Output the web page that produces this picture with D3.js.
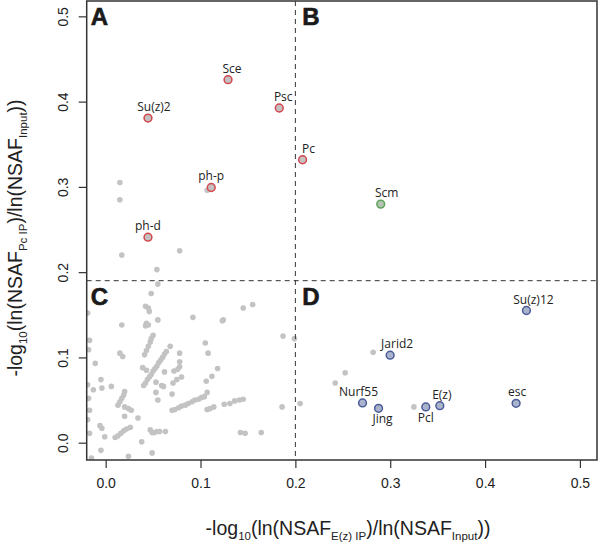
<!DOCTYPE html>
<html><head><meta charset="utf-8">
<script src="https://cdn.jsdelivr.net/npm/d3@7"></script>
<style>body{margin:0;background:#fff}</style>
</head><body><svg id="c" width="600" height="547"></svg>
<script>
// ---- data ----
const xTicks = [0.0, 0.1, 0.2, 0.3, 0.4, 0.5];
const yTicks = [0.0, 0.1, 0.2, 0.3, 0.4, 0.5];
const xThreshold = 0.2;
const yThreshold = 0.19;
const panelLetters = ["A", "B", "C", "D"];

const greyX = [0.015,0.015,0.017,0.078,0.054,0.107,
 0.055,0.048,0.042,0.045,0.046,0.043,0.042,0.045,0.055,0.017,0.092,0.145,0.155,0.124,0.123,0.187,0.199,
 -0.019,-0.017,-0.018,
 0.041,0.043,0.045,0.047,0.048,0.050,
 0.015,0.018,0.068,0.078,0.078,0.105,0.108,0.118,0.112,0.106,0.107,
 0.040,0.042,0.044,0.046,0.048,0.050,0.052,0.054,0.056,0.058,0.060,0.062,0.064,
 0.039,0.043,0.062,0.053,0.061,0.059,0.072,0.076,0.078,0.071,0.075,0.080,0.070,
 -0.011,-0.005,-0.004,-0.013,0.006,-0.018,
 0.013,0.015,0.017,0.019,0.020,
 0.020,0.024,0.027,0.020,0.034,0.053,0.055,-0.017,-0.006,-0.004,-0.017,-0.001,
 0.010,0.013,0.016,0.019,0.022,0.026,
 0.038,0.047,0.049,0.051,0.054,0.057,0.063,
 0.070,0.073,0.077,0.080,0.084,0.087,0.091,0.094,0.098,0.101,0.104,
 0.107,0.110,0.114,0.125,0.131,0.136,0.141,0.145,0.142,0.147,0.164,0.186,
 -0.005,0.024,0.049,-0.019,-0.019,-0.015,
 0.205,0.282,0.2525,0.242,0.325];
const greyY = [0.305,0.285,0.220,0.225,0.203,0.296,
 0.186,0.175,0.160,0.158,0.154,0.140,0.137,0.138,0.144,0.138,0.147,0.158,0.162,0.144,0.143,0.125,0.122,
 0.152,0.120,0.109,
 0.103,0.108,0.113,0.118,0.122,0.126,
 0.105,0.101,0.113,0.105,0.095,0.117,0.105,0.087,0.078,0.072,0.059,
 0.067,0.070,0.074,0.077,0.080,0.084,0.087,0.090,0.094,0.097,0.100,0.104,0.107,
 0.088,0.085,0.083,0.071,0.066,0.067,0.084,0.086,0.089,0.070,0.074,0.077,0.057,
 0.093,0.074,0.064,0.062,0.066,0.052,
 0.044,0.048,0.052,0.056,0.060,
 0.042,0.040,0.038,0.031,0.029,0.059,0.050,0.038,0.020,0.017,0.011,0.007,
 0.006,0.008,0.011,0.014,0.016,0.018,
 0.001,0.015,0.012,0.012,0.013,0.013,0.013,
 0.038,0.039,0.041,0.043,0.044,0.046,0.048,0.050,0.051,0.053,0.054,
 0.039,0.040,0.042,0.045,0.046,0.049,0.050,0.051,0.012,0.011,0.012,0.042,
 -0.009,-0.016,-0.012,0.068,0.027,-0.018,
 0.046,0.106,0.082,0.070,0.042];

const proteinNames = ["Sce","Su(z)2","Psc","ph-p","ph-d","Pc","Scm","Su(z)12","Jarid2","Nurf55","Jing","Pcl","E(z)","esc"];
const proteinX = [0.129,0.0446,0.183,0.1113,0.0446,0.2076,0.290,0.4436,0.2999,0.2708,0.2877,0.3375,0.3523,0.4327];
const proteinY = [0.4257,0.3807,0.3925,0.2993,0.241,0.3318,0.2798,0.155,0.1026,0.0466,0.0403,0.0419,0.0434,0.0462];
const proteinGroup = ["PRC1","PRC1","PRC1","PRC1","PRC1","PRC1","Scm","PRC2","PRC2","PRC2","PRC2","PRC2","PRC2","PRC2"];
const labelSide = ["above","above","above","above","above","above","above","above","above","above","below","below","above","above"];
const labelShift = [4,6,4,0,0,6,6,7,7,-4,4,0,2,1];

const groupStroke = {PRC1:"#d4454c", Scm:"#5ea35c", PRC2:"#4a5b98"};
const groupFill = {PRC1:"#c4c0c0", Scm:"#b4c4b0", PRC2:"#a9b3cc"};

// ---- layout ----
const svg = d3.select("#c");
const L = 86.7, R = 597, T = 1, B = 460;
const x = d3.scaleLinear().domain([-0.02, 0.518]).range([L, R]);
const y = d3.scaleLinear().domain([-0.0203, 0.518]).range([B, T]);
const axisCol = "#333";

svg.append("rect").attr("width",600).attr("height",547).attr("fill","#fff");

svg.append("clipPath").attr("id","clip").append("rect")
  .attr("x",L).attr("y",T).attr("width",R-L).attr("height",B-T);

const plot = svg.append("g").attr("clip-path","url(#clip)");

// grey points
plot.selectAll("circle.g").data(greyX.map((v,i)=>[v,greyY[i]])).join("circle")
  .attr("class","g").attr("cx",d=>x(d[0])).attr("cy",d=>y(d[1])).attr("r",2.8)
  .attr("fill","#c3c3c3");

// threshold dashed lines
plot.append("line").attr("x1",x(xThreshold)).attr("x2",x(xThreshold)).attr("y1",T).attr("y2",B)
  .attr("stroke",axisCol).attr("stroke-width",1).attr("stroke-dasharray","5,4");
plot.append("line").attr("x1",L).attr("x2",R).attr("y1",y(yThreshold)).attr("y2",y(yThreshold))
  .attr("stroke",axisCol).attr("stroke-width",1).attr("stroke-dasharray","5,4");

// labelled proteins
const prot = proteinNames.map((n,i)=>({n, x:proteinX[i], y:proteinY[i], g:proteinGroup[i], side:labelSide[i], dx:labelShift[i]}));
plot.selectAll("circle.p").data(prot).join("circle")
  .attr("class","p").attr("cx",d=>x(d.x)).attr("cy",d=>y(d.y)).attr("r",3.9)
  .attr("fill",d=>groupFill[d.g]).attr("stroke",d=>groupStroke[d.g]).attr("stroke-width",1.5);
svg.selectAll("text.lab").data(prot).join("text")
  .attr("class","lab")
  .attr("x",d=>x(d.x)+d.dx)
  .attr("y",d=>y(d.y)+(d.side==="above"?-7:15))
  .attr("text-anchor","middle").attr("font-family","'Open Sans', sans-serif").attr("font-size",12)
  .attr("fill","#222").text(d=>d.n);

// axes
const xAxis = d3.axisBottom(x).tickValues(xTicks).tickFormat(d3.format(".1f")).tickSize(8).tickPadding(10);
const gx = svg.append("g").attr("transform",`translate(0,${B})`).call(xAxis);
gx.select(".domain").remove();
gx.selectAll("line").attr("stroke",axisCol).attr("stroke-width",1.2);
gx.selectAll("text").attr("font-family","'Liberation Sans', Arial, sans-serif").attr("font-size",14).attr("fill","#222");

const yAxis = d3.axisLeft(y).tickValues(yTicks).tickFormat(d3.format(".1f")).tickSize(8).tickPadding(0);
const gy = svg.append("g").attr("transform",`translate(${L},0)`).call(yAxis);
gy.select(".domain").remove();
gy.selectAll("line").attr("stroke",axisCol).attr("stroke-width",1.2);
gy.selectAll("text").attr("font-family","'Liberation Sans', Arial, sans-serif").attr("font-size",14).attr("fill","#222")
  .attr("x",null).attr("dy",null).attr("text-anchor","middle")
  .attr("transform","translate(-24,0) rotate(-90)").attr("y",0).attr("dominant-baseline","central");

// box
svg.append("rect").attr("x",L).attr("y",T).attr("width",R-L).attr("height",B-T)
  .attr("fill","none").attr("stroke",axisCol).attr("stroke-width",1.5);

// panel letters
const letterPos = [[L+4, y(0.518)], [x(xThreshold)+7, y(0.518)], [L+4, y(yThreshold)], [x(xThreshold)+7, y(yThreshold)]];
svg.selectAll("text.pl").data(panelLetters).join("text").attr("class","pl")
  .attr("x",(d,i)=>letterPos[i][0]).attr("y",(d,i)=>letterPos[i][1]+24)
  .attr("font-family","'Liberation Sans', Arial, sans-serif").attr("font-weight","bold").attr("font-size",24)
  .attr("stroke","#1a1a1a").attr("stroke-width",0.6)
  .attr("fill","#1a1a1a").text(d=>d);

// axis titles
function title(sel, parts){
  parts.forEach(p=>{
    const t = sel.append("tspan").text(p[0]);
    if(p[1]==="sub") t.attr("font-size",11.5).attr("dy",5);
    else if(p[1]==="up") t.attr("dy",-5);
  });
}
const xt = svg.append("text").attr("x",348).attr("y",535).attr("text-anchor","middle")
  .attr("font-family","'Liberation Sans', Arial, sans-serif").attr("font-size",19.5).attr("fill","#222");
title(xt, [["-log"],["10","sub"],["(ln(NSAF","up"],["E(z) IP","sub"],[")/ln(NSAF","up"],["Input","sub"],["))","up"]]);

const yt = svg.append("text").attr("transform","translate(22,238) rotate(-90)").attr("text-anchor","middle")
  .attr("font-family","'Liberation Sans', Arial, sans-serif").attr("font-size",19.5).attr("fill","#222");
title(yt, [["-log"],["10","sub"],["(ln(NSAF","up"],["Pc IP","sub"],[")/ln(NSAF","up"],["Input","sub"],["))","up"]]);
</script></body></html>
